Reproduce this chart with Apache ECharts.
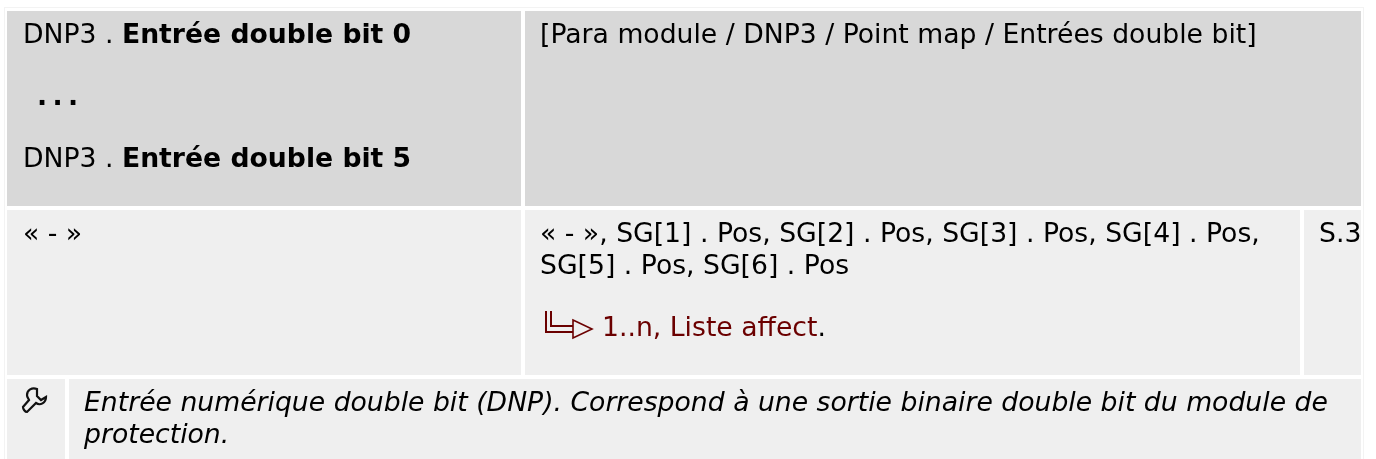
<!DOCTYPE html>
<html>
<head>
<meta charset="utf-8">
<script src="https://cdn.jsdelivr.net/npm/echarts@6/dist/echarts.min.js"></script>
<style>
html, body { margin: 0; padding: 0; background: #fff; }
#main { width: 1376px; height: 459px; }
</style>
</head>
<body>
<div id="main"></div>
<script>
// table contents
var paramPrefix = 'DNP3 . ';
var paramNames = ['Entrée double bit 0', 'Entrée double bit 5'];
var ellipsis = '.\u2009.\u2009.';
var menuPath = '[Para module / DNP3 / Point map / Entrées double bit]';
var defaultValue = '« - »';
var rangeLines = ['« - », SG[1] . Pos, SG[2] . Pos, SG[3] . Pos, SG[4] . Pos,', 'SG[5] . Pos, SG[6] . Pos'];
var rangeLink = '1..n, Liste affect';
var pageRef = 'S.3';
var noteLines = ['Entrée numérique double bit (DNP). Correspond à une sortie binaire double bit du module de', 'protection.'];

var FONT = '"DejaVu Sans", sans-serif';
var SIZE = 26.67;
var HEAD = '#d8d8d8', BODY = '#efefef', BORDER = '#f3f3f3', DARK = '#000', RED = '#6b0000';

// the graphic component has no plain path type, so the wrench gets registered as a shape
echarts.graphic.registerShape('wrench', echarts.graphic.extendPath(
    'M37 389 C32 387 27 390 27 395 C27 397 28 398 29 400 L23 407 C23 409 25 412 27 412 L36 403 C40 406 46 403 46 397 L41 400 L37 396 Z', {}
));

function rect(x, y, w, h, fill) {
    return { type: 'rect', shape: { x: x, y: y, width: w, height: h }, style: { fill: fill } };
}
function label(x, y, rich, color) {
    return { type: 'text', x: x, y: y, style: {
        text: rich, fill: color || DARK, font: SIZE + 'px ' + FONT, verticalAlign: 'middle',
        rich: {
            b: { font: 'bold ' + SIZE + 'px ' + FONT, fill: DARK },
            r: { font: SIZE + 'px ' + FONT, fill: DARK }
        }
    } };
}
function line(points) {
    return { type: 'polyline', shape: { points: points }, style: { fill: 'none', stroke: RED, lineWidth: 2 } };
}

var elements = [
    // outer hairlines
    rect(4, 7, 1360, 452, BORDER),
    rect(5, 8, 1358, 451, '#fff'),
    // header row
    rect(7, 11, 514, 195, HEAD),
    rect(525, 11, 836, 195, HEAD),
    // value row
    rect(7, 210, 514, 165, BODY),
    rect(525, 210, 775, 165, BODY),
    rect(1304, 210, 57, 165, BODY),
    // note row
    rect(7, 379, 58, 80, BODY),
    rect(69, 379, 1292, 80, BODY),

    label(23, 36, paramPrefix + '{b|' + paramNames[0] + '}'),
    { type: 'text', x: 37, y: 98, style: { text: ellipsis, fill: DARK, font: 'bold ' + SIZE + 'px ' + FONT, verticalAlign: 'middle' } },
    label(23, 160, paramPrefix + '{b|' + paramNames[1] + '}'),
    label(540, 36, menuPath),
    label(23, 235, defaultValue),
    label(540, 235, rangeLines[0]),
    label(540, 267, rangeLines[1]),
    label(602, 329, rangeLink + '{r|.}', RED),
    label(1319, 235, pageRef),

    // link arrow
    line([[546, 311], [546, 332], [573, 332]]),
    line([[551, 311], [551, 326], [573, 326]]),
    { type: 'polygon', shape: { points: [[573, 320], [592, 329], [573, 338]] }, style: { fill: 'none', stroke: RED, lineWidth: 1.6 } },

    // wrench icon
    { type: 'wrench', style: { fill: 'none', stroke: '#111', lineWidth: 2.2 } },

    { type: 'text', x: 84, y: 404, style: { text: noteLines[0], fill: DARK, font: 'italic ' + SIZE + 'px ' + FONT, verticalAlign: 'middle' } },
    { type: 'text', x: 84, y: 436, style: { text: noteLines[1], fill: DARK, font: 'italic ' + SIZE + 'px ' + FONT, verticalAlign: 'middle' } }
];

var chart = echarts.init(document.getElementById('main'));
chart.setOption({
    animation: false,
    backgroundColor: '#fff',
    graphic: { elements: elements }
});
</script>
</body>
</html>
